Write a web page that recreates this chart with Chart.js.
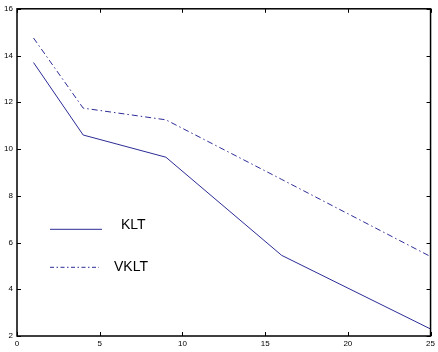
<!DOCTYPE html>
<html>
<head>
<meta charset="utf-8">
<script src="https://cdn.jsdelivr.net/npm/chart.js@4"></script>
<style>
  html, body { margin: 0; padding: 0; background: #fff; }
  #wrap { width: 438px; height: 352px; }
</style>
</head>
<body>
<div id="wrap"><canvas id="errChart"></canvas></div>
<script>
// values
var xValues = [1, 4, 9, 16, 25];
var kltValues = [13.7, 10.6, 9.65, 5.45, 2.3];
var vkltValues = [14.75, 11.75, 11.25, 8.7, 5.4];
var seriesNames = ['KLT', 'VKLT'];
var xTicks = [0, 5, 10, 15, 20, 25];
var yTicks = [2, 4, 6, 8, 10, 12, 14, 16];

var lineColor = 'rgb(44,44,150)';

function toPoints(xs, ys) {
    return xs.map(function (x, i) { return { x: x, y: ys[i] }; });
}

// box round the plot, ticks pointing in on all four sides, legend inside
var boxPlugin = {
    id: 'boxPlugin',
    afterDraw: function (chart) {
        var ctx = chart.ctx;
        var a = chart.chartArea;
        var xs = chart.scales.x, ys = chart.scales.y;
        var len = 4;
        ctx.save();
        ctx.strokeStyle = '#000';
        ctx.lineWidth = 1;
        ctx.beginPath();
        xTicks.forEach(function (t) {
            var px = Math.round(xs.getPixelForValue(t)) + 0.5;
            ctx.moveTo(px, a.bottom); ctx.lineTo(px, a.bottom - len);
            ctx.moveTo(px, a.top); ctx.lineTo(px, a.top + len);
        });
        yTicks.forEach(function (t) {
            var py = Math.round(ys.getPixelForValue(t)) + 0.5;
            ctx.moveTo(a.left, py); ctx.lineTo(a.left + len, py);
            ctx.moveTo(a.right, py); ctx.lineTo(a.right - len, py);
        });
        ctx.stroke();
        ctx.lineWidth = 1.5;
        ctx.strokeRect(a.left, a.top, a.right - a.left, a.bottom - a.top);

        // legend
        var ds = chart.data.datasets;
        var lx = a.left + 33;
        var rowY = [a.top + 220, a.top + 258];
        var textX = [lx + 71, lx + 64];
        var textDy = [-4, 0];
        ctx.font = '14px "Liberation Sans", Arial, sans-serif';
        ctx.textBaseline = 'middle';
        ctx.fillStyle = '#000';
        ds.forEach(function (d, i) {
            var y = rowY[i] + 0.5;
            ctx.strokeStyle = d.borderColor;
            ctx.lineWidth = 1;
            ctx.setLineDash(d.borderDash ? [4, 2.5, 1.5, 2.5] : []);
            ctx.beginPath();
            ctx.moveTo(lx, y); ctx.lineTo(lx + (i ? 49 : 52), y);
            ctx.stroke();
            ctx.setLineDash([]);
            ctx.fillText(d.label, textX[i], y + textDy[i]);
        });
        ctx.restore();
    }
};

new Chart(document.getElementById('errChart'), {
    type: 'line',
    data: {
        datasets: [{
            label: seriesNames[0],
            data: toPoints(xValues, kltValues),
            borderColor: lineColor,
            borderWidth: 1,
            pointRadius: 0,
            tension: 0,
            fill: false
        }, {
            label: seriesNames[1],
            data: toPoints(xValues, vkltValues),
            borderColor: lineColor,
            borderWidth: 1,
            borderDash: [6, 3, 1.5, 3],
            pointRadius: 0,
            tension: 0,
            fill: false
        }]
    },
    plugins: [boxPlugin],
    options: {
        responsive: true,
        maintainAspectRatio: false,
        animation: false,
        layout: { padding: { top: 8, right: 3, left: 0, bottom: 0 } },
        plugins: {
            legend: { display: false },
            tooltip: { enabled: false }
        },
        scales: {
            x: {
                type: 'linear',
                min: 0,
                max: 25,
                afterBuildTicks: function (s) { s.ticks = xTicks.map(function (v) { return { value: v }; }); },
                afterFit: function (s) { s.height = 16; },
                grid: { display: false, drawTicks: false },
                border: { display: false },
                ticks: {
                    font: { size: 8, family: '"Liberation Sans", Arial, sans-serif' },
                    color: '#000',
                    padding: 3,
                    maxRotation: 0
                }
            },
            y: {
                type: 'linear',
                min: 2,
                max: 16,
                afterBuildTicks: function (s) { s.ticks = yTicks.map(function (v) { return { value: v }; }); },
                afterFit: function (s) { s.width = 17; },
                grid: { display: false, drawTicks: false },
                border: { display: false },
                ticks: {
                    font: { size: 8, family: '"Liberation Sans", Arial, sans-serif' },
                    color: '#000',
                    padding: 4
                }
            }
        }
    }
});
</script>
</body>
</html>
